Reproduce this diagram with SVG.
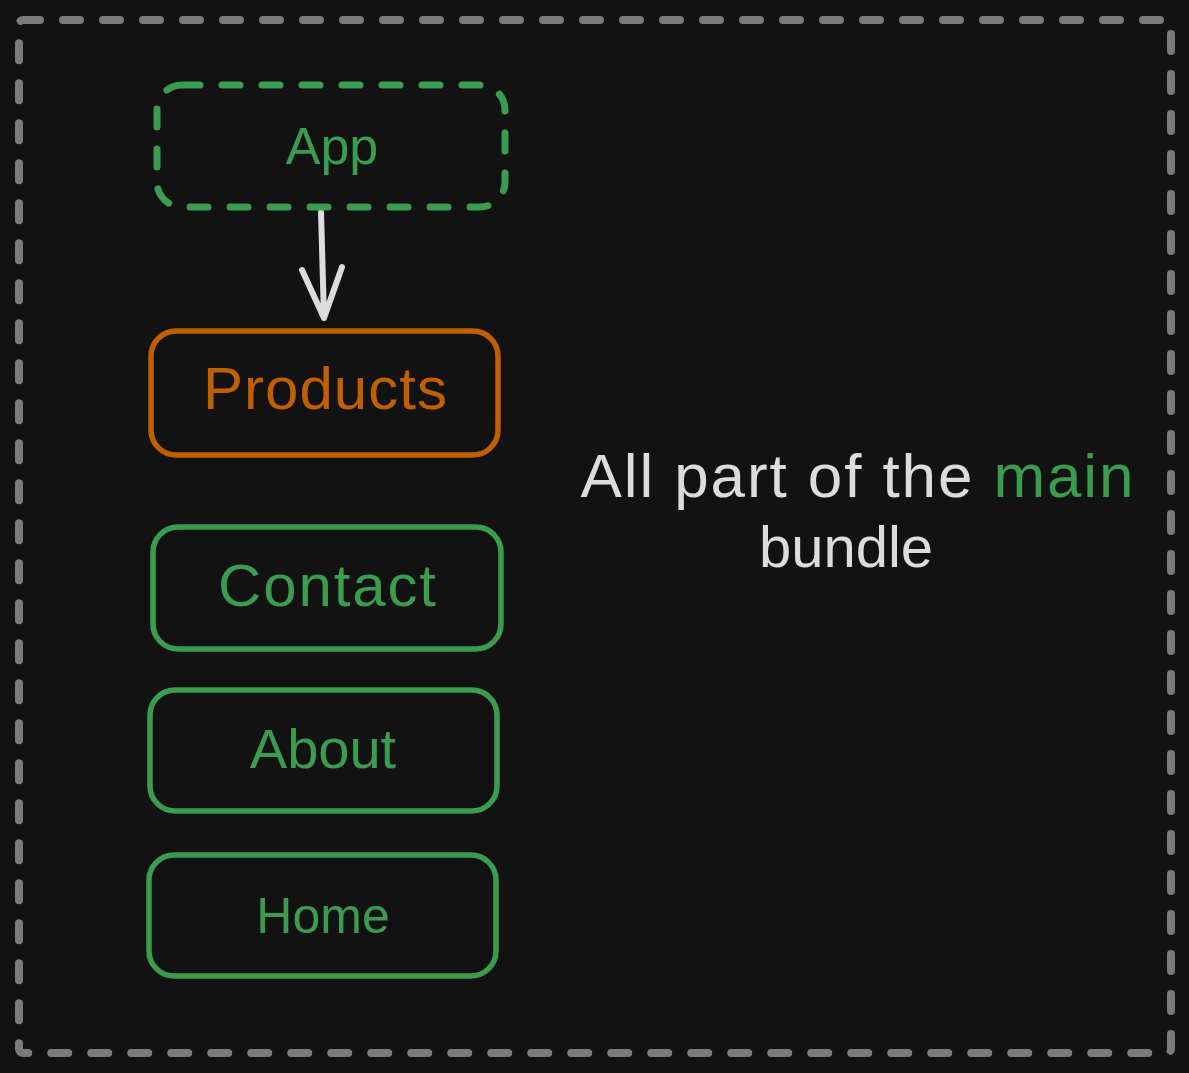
<svg xmlns="http://www.w3.org/2000/svg" width="1189" height="1073" viewBox="0 0 1189 1073">
<style>
.bg{fill:#121212}
.frame{fill:none;stroke:#7b7b7b;stroke-width:8;stroke-dasharray:17 23;stroke-linecap:round}
.dbox{fill:none;stroke:#3a9c4f;stroke-width:7;stroke-dasharray:18 22;stroke-linecap:round}
.gbox{fill:none;stroke:#3a9c4f;stroke-width:5.5}
.obox{fill:none;stroke:#c06000;stroke-width:5.5}
.lbl{font-family:"Liberation Sans",Arial,sans-serif;font-size:56px;text-anchor:middle}
.g{fill:#3a9c4f}
.o{fill:#c06000}
.w{fill:#dcdcdc}
.arr{fill:none;stroke:#dcdcdc;stroke-width:6;stroke-linecap:round;stroke-linejoin:round}
</style>
<rect class="bg" x="0" y="0" width="1189" height="1073"/>
<rect id="frame" class="frame" x="19" y="20" width="1152" height="1033" rx="4"/>
<g id="connectors">
<path class="arr" d="M321 212 L324 318 M302 270 L324 318 L342 267"/>
</g>
<g id="app">
<rect class="dbox" x="157" y="85" width="348" height="122" rx="25"/>
<text class="lbl g" x="332" y="164" style="font-size:52px">App</text>
</g>
<g id="products">
<rect class="obox" x="151" y="331" width="347" height="124" rx="25"/>
<text class="lbl o" x="325" y="409" style="font-size:60px" textLength="244">Products</text>
</g>
<g id="contact">
<rect class="gbox" x="153" y="527" width="348" height="122" rx="25"/>
<text class="lbl g" x="327" y="606" style="font-size:60px" textLength="218">Contact</text>
</g>
<g id="about">
<rect class="gbox" x="150" y="690" width="347" height="121" rx="25"/>
<text class="lbl g" x="323" y="768">About</text>
</g>
<g id="home">
<rect class="gbox" x="149" y="855" width="347" height="121" rx="25"/>
<text class="lbl g" x="323" y="933" style="font-size:50px">Home</text>
</g>
<g id="note">
<text class="lbl w" x="857" y="497" style="font-size:62px" textLength="553">All part of the <tspan class="g">main</tspan></text>
<text class="lbl w" x="846" y="567" style="font-size:58px">bundle</text>
</g>
</svg>
